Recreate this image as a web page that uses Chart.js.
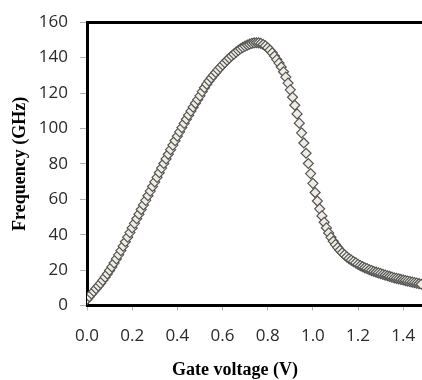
<!DOCTYPE html>
<html>
<head>
<meta charset="utf-8">
<script src="https://cdn.jsdelivr.net/npm/chart.js@4.4.1/dist/chart.umd.min.js"></script>
<style>
  html, body { margin: 0; padding: 0; background: #fff; overflow: hidden; }
  #wrap { width: 432px; height: 380px; }
</style>
</head>
<body>
<div id="wrap"><canvas id="chart" width="432" height="380"></canvas></div>
<script>
// gate voltage sweep (V)
const voltage = [
  0.00, 0.01, 0.02, 0.03, 0.04, 0.05, 0.06, 0.07, 0.08, 0.09,
  0.10, 0.11, 0.12, 0.13, 0.14, 0.15, 0.16, 0.17, 0.18, 0.19,
  0.20, 0.21, 0.22, 0.23, 0.24, 0.25, 0.26, 0.27, 0.28, 0.29,
  0.30, 0.31, 0.32, 0.33, 0.34, 0.35, 0.36, 0.37, 0.38, 0.39,
  0.40, 0.41, 0.42, 0.43, 0.44, 0.45, 0.46, 0.47, 0.48, 0.49,
  0.50, 0.51, 0.52, 0.53, 0.54, 0.55, 0.56, 0.57, 0.58, 0.59,
  0.60, 0.61, 0.62, 0.63, 0.64, 0.65, 0.66, 0.67, 0.68, 0.69,
  0.70, 0.71, 0.72, 0.73, 0.74, 0.75, 0.76, 0.77, 0.78, 0.79,
  0.80, 0.81, 0.82, 0.83, 0.84, 0.85, 0.86, 0.87, 0.88, 0.89,
  0.90, 0.91, 0.92, 0.93, 0.94, 0.95, 0.96, 0.97, 0.98, 0.99,
  1.00, 1.01, 1.02, 1.03, 1.04, 1.05, 1.06, 1.07, 1.08, 1.09,
  1.10, 1.11, 1.12, 1.13, 1.14, 1.15, 1.16, 1.17, 1.18, 1.19,
  1.20, 1.21, 1.22, 1.23, 1.24, 1.25, 1.26, 1.27, 1.28, 1.29,
  1.30, 1.31, 1.32, 1.33, 1.34, 1.35, 1.36, 1.37, 1.38, 1.39,
  1.40, 1.41, 1.42, 1.43, 1.44, 1.45, 1.46, 1.47, 1.48
];

// frequency (GHz)
const frequency = [
  3.5, 5.0, 6.5, 8.0, 9.5, 11.0, 12.5, 14.2, 16.0, 17.8,
  19.8, 21.8, 24.0, 26.3, 28.6, 31.0, 33.5, 36.0, 38.6, 41.2,
  43.8, 46.4, 49.0, 51.6, 54.2, 56.8, 59.4, 62.0, 64.6, 67.2,
  69.8, 72.4, 75.0, 77.6, 80.2, 82.8, 85.4, 88.0, 90.6, 93.1,
  95.6, 98.1, 100.5, 102.9, 105.2, 107.5, 109.8, 112.0, 114.2, 116.3,
  118.4, 120.8, 123.0, 125.0, 126.8, 128.5, 130.1, 131.6, 133.1, 134.5,
  135.9, 137.2, 138.5, 139.7, 140.9, 142.0, 143.1, 144.1, 145.0, 145.8,
  146.5, 147.1, 147.6, 148.0, 148.3, 148.4, 148.3, 148.0, 147.4, 146.6,
  145.5, 144.2, 142.7, 140.9, 138.9, 136.9, 134.7, 132.0, 129.0, 125.6,
  121.8, 117.6, 113.1, 108.2, 103.0, 97.5, 91.8, 86.0, 80.2, 74.5,
  69.0, 63.8, 59.0, 54.6, 50.6, 47.0, 43.8, 41.0, 38.5, 36.3,
  34.4, 32.7, 31.2, 29.8, 28.6, 27.5, 26.5, 25.6, 24.8, 24.1,
  23.2, 22.5, 21.9, 21.3, 20.8, 20.2, 19.7, 19.2, 18.8, 18.4,
  18.0, 17.6, 17.2, 16.8, 16.4, 16.0, 15.6, 15.3, 15.0, 14.7,
  14.4, 14.1, 13.8, 13.5, 13.2, 12.9, 12.6, 12.3, 12.0
];

const xTitle = 'Gate voltage (V)';
const yTitle = 'Frequency (GHz)';

const tickFont = { family: '"Open Sans", sans-serif', size: 17 };
const titleFont = { family: '"Liberation Serif", "Times New Roman", serif', size: 18, weight: 'bold' };

// x-axis title sits left of the plot centre in the original, so draw it by hand
const xTitlePlugin = {
  id: 'xTitle',
  afterDraw(chart) {
    const { ctx, chartArea } = chart;
    ctx.save();
    ctx.font = 'bold 18px "Liberation Serif", "Times New Roman", serif';
    ctx.fillStyle = '#000';
    ctx.textAlign = 'center';
    ctx.textBaseline = 'middle';
    ctx.fillText(xTitle, chartArea.left + 148, 370);
    ctx.restore();
  }
};

const points = voltage.map((v, i) => ({ x: v, y: frequency[i] }));

new Chart(document.getElementById('chart').getContext('2d'), {
  type: 'scatter',
  data: {
    datasets: [{
      label: 'f',
      data: points,
      pointStyle: 'rectRot',
      pointRadius: 5,
      pointBackgroundColor: '#efede3',
      pointBorderColor: '#555555',
      pointBorderWidth: 1.2,
      showLine: false
    }]
  },
  options: {
    responsive: false,
    animation: false,
    layout: { padding: { top: 16, right: 3, left: 0, bottom: 0 } },
    plugins: {
      legend: { display: false },
      tooltip: { enabled: false }
    },
    scales: {
      x: {
        type: 'linear',
        position: 'bottom',
        min: 0,
        max: 1.5,
        afterFit: s => { s.height = 74.5; },
        border: { color: '#000', width: 3 },
        grid: { drawOnChartArea: false, drawTicks: true, tickLength: 5, color: '#b0b0b0' },
        ticks: {
          stepSize: 0.2,
          includeBounds: false,
          padding: 15,
          color: '#2a2a2a',
          font: tickFont,
          maxRotation: 0,
          callback: v => v.toFixed(1)
        }
      },
      x2: {
        type: 'linear',
        position: 'top',
        min: 0,
        max: 1.5,
        afterFit: s => { s.height = 0; },
        border: { color: '#000', width: 3 },
        grid: { display: false, drawTicks: false },
        ticks: { display: false }
      },
      y: {
        min: 0,
        max: 160,
        afterFit: s => { s.width = 87; },
        border: { color: '#000', width: 3 },
        grid: { drawOnChartArea: false, drawTicks: true, tickLength: 7, color: '#b0b0b0' },
        ticks: { stepSize: 20, padding: 12, color: '#2a2a2a', font: tickFont },
        title: { display: true, text: yTitle, color: '#000', font: titleFont, padding: { top: 10 } }
      }
    }
  },
  plugins: [xTitlePlugin]
});
</script>
</body>
</html>
